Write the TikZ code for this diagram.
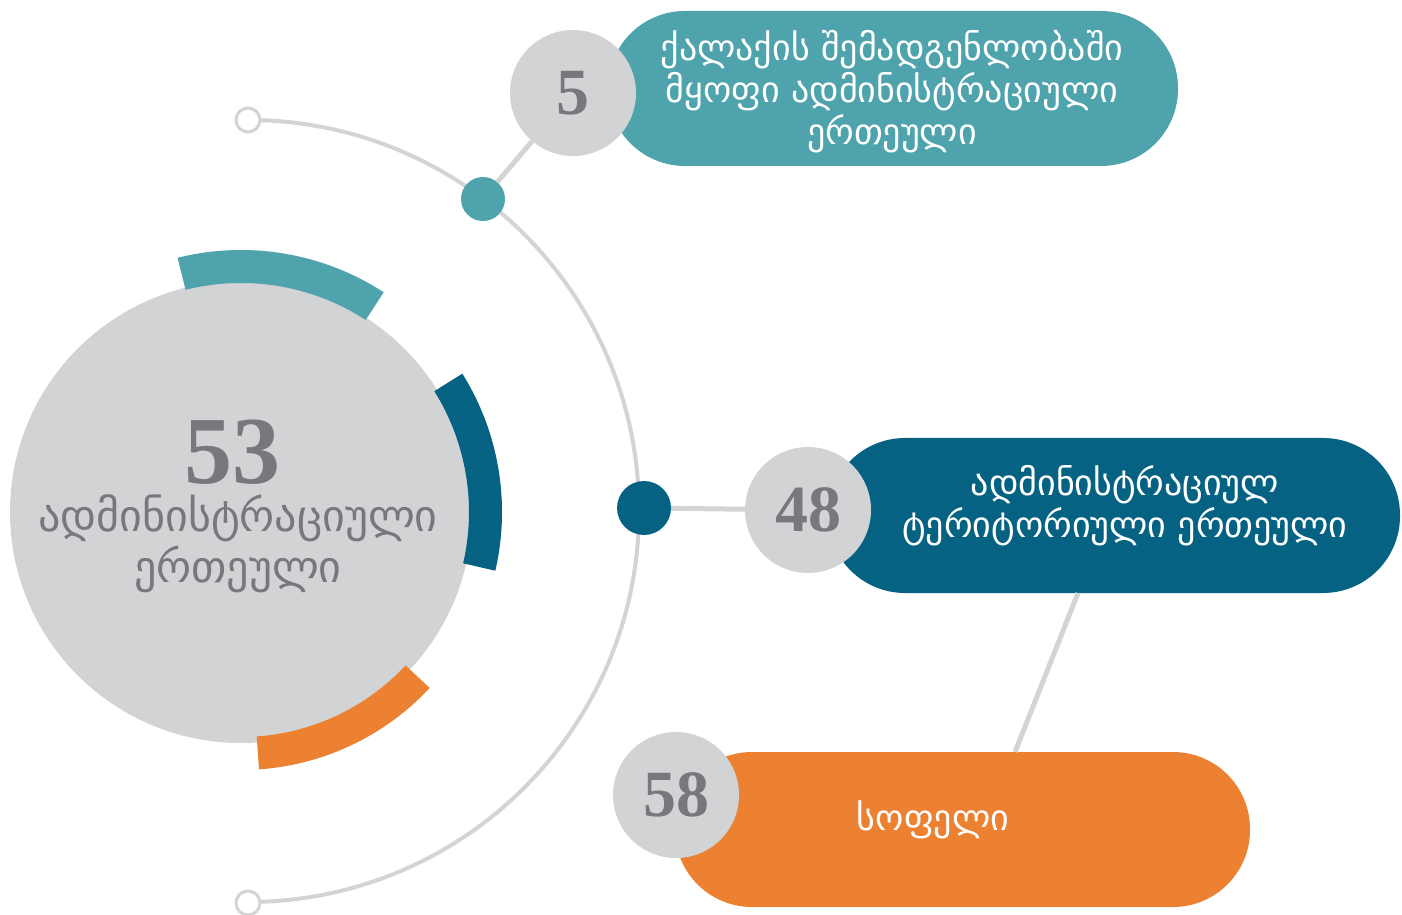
\documentclass[tikz,border=0pt]{standalone}
\usepackage{fontspec}
\setmainfont{DejaVu Sans}
\newfontfamily\numfont{Liberation Serif}
\newfontfamily\geofont{DejaVu Sans}
\definecolor{cteal}{HTML}{4FA3AC}
\definecolor{cblue}{HTML}{066283}
\definecolor{corange}{HTML}{ED8132}
\definecolor{cgray}{HTML}{D1D3D5}
\definecolor{cnum}{HTML}{77787B}
\definecolor{cline}{HTML}{D4D4D4}
\begin{document}
\begin{tikzpicture}[x=1pt,y=1pt,
  numcirc/.style={circle,fill=cgray,minimum size=126pt,inner sep=0pt,text=cnum,font=\numfont\bfseries\fontsize{66}{66}\selectfont},
  pill/.style={rounded corners=77pt,minimum height=155pt,inner sep=0pt},
  dot/.style={circle,inner sep=0pt},
  ring/.style={circle,draw=cline,line width=3pt,fill=white,minimum size=24pt,inner sep=0pt},
  conn/.style={draw=cline,line width=5pt},
  wtext/.style={text=white,align=center,font=\geofont\fontsize{36}{42}\selectfont},
  gtext/.style={text=cnum,align=center,inner sep=0pt,font=\geofont\fontsize{44}{51}\selectfont}]
\useasboundingbox (0,0) rectangle (1402,914);
% big arc
\draw[cline,line width=4pt] (248,794) arc[start angle=90,end angle=-90,radius=391];
\node[ring] (rtop) at (248,794) {};
\node[ring] (rbot) at (248,11) {};
% dots on arc
\node[dot,fill=cteal,minimum size=44pt] (tdot) at (483,715) {};
\node[dot,fill=cblue,minimum size=54pt] (bdot) at (644,406) {};
% big circle with arcs
\node[circle,fill=cgray,minimum size=462pt,inner sep=0pt] (big) at (241,402) {};
\fill[cteal] (241,402) ++(57:262) arc[start angle=57,end angle=104,radius=262] -- ++(284:33) arc[start angle=104,end angle=57,radius=229] -- cycle;
\fill[cblue] (241,402) ++(-13:261) arc[start angle=-13,end angle=32,radius=261] -- ++(212:33) arc[start angle=32,end angle=-13,radius=228] -- cycle;
\fill[corange] (241,402) ++(-86:258) arc[start angle=-86,end angle=-43,radius=258] -- ++(137:33) arc[start angle=-43,end angle=-86,radius=225] -- cycle;
\node[text=cnum,inner sep=0pt,text depth=0pt,anchor=base,font=\numfont\bfseries\fontsize{96}{96}\selectfont] (n53) at (232,430) {53};
\node[gtext] (t53) at (238,370) {ადმინისტრაციული\\ერთეული};
% pills
\node[pill,fill=cteal,minimum width=570pt] (pteal) at (893,825.5) {};
\node[pill,fill=cblue,minimum width=572pt] (pblue) at (1114,398.5) {};
\node[pill,fill=corange,minimum width=575pt] (porange) at (962.5,84.5) {};
% number circles
\node[numcirc] (c5) at (573,821) {5};
\node[numcirc] (c48) at (808,404) {48};
\node[numcirc] (c58) at (676,119) {58};
% connectors
\coordinate (bluefoot) at (1078,321);
\coordinate (orangetop) at (1015,162);
\draw[conn] (tdot) -- (c5);
\draw[conn] (bdot) -- (c48);
\draw[conn] (bluefoot) -- (orangetop);
% texts
\node[wtext] (tteal) at (892,822) {ქალაქის შემადგენლობაში\\მყოფი ადმინისტრაციული\\ერთეული};
\node[wtext] (tblue) at (1125,408) {ადმინისტრაციულ\\ტერიტორიული ერთეული};
\node[wtext] (torange) at (933,94) {სოფელი};
\end{tikzpicture}
\end{document}
